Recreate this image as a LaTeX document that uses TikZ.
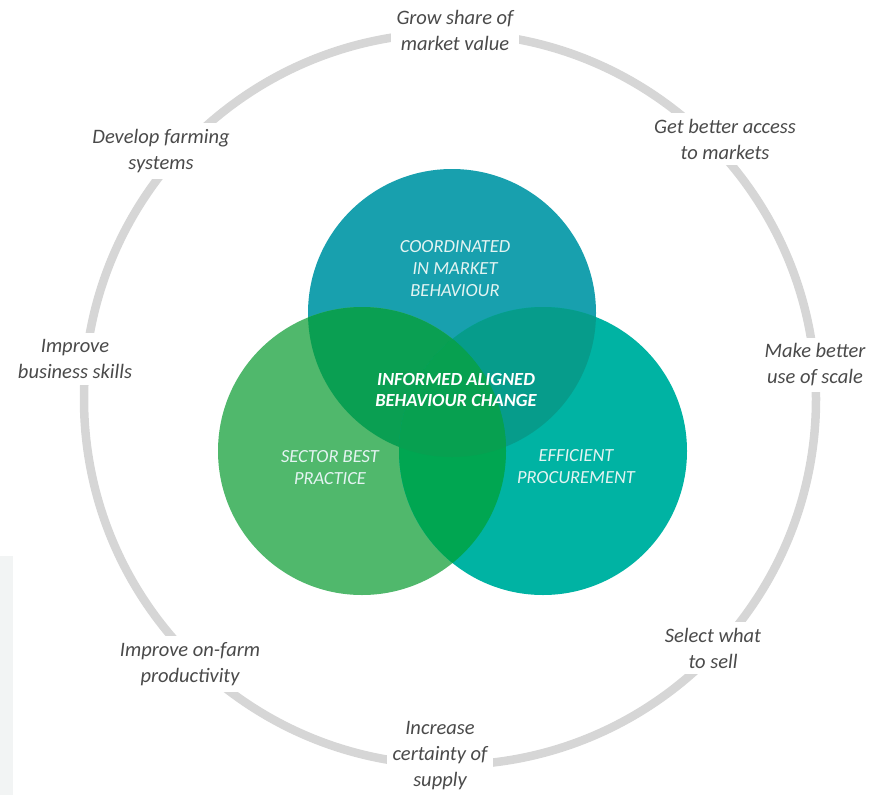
\documentclass[tikz,border=0pt]{standalone}
\usepackage{fontspec}
\setmainfont{Carlito}
\definecolor{ringgray}{HTML}{D6D6D6}
\definecolor{labelgray}{HTML}{4A4A4A}
\definecolor{topc}{HTML}{18A0AE}
\definecolor{leftc}{HTML}{50B86C}
\definecolor{rightc}{HTML}{00B3A3}
\definecolor{tlc}{HTML}{0A9F52}
\definecolor{trc}{HTML}{069C8B}
\definecolor{lrc}{HTML}{00A651}
\definecolor{midc}{HTML}{07A050}
\definecolor{panel}{HTML}{F2F4F4}
\definecolor{softwhite}{HTML}{E4F4F2}
\begin{document}
\begin{tikzpicture}[x=1pt,y=-1pt,
  ringline/.style={draw=ringgray,line width=8.5pt},
  outerlabel/.style={fill=white,inner sep=6pt,align=center,text=labelgray,
    font=\fontsize{20.5}{26}\selectfont\itshape},
  setlabel/.style={align=center,text=softwhite,
    font=\fontsize{18.5}{22}\selectfont\itshape},
  corelabel/.style={align=center,text=white,
    font=\fontsize{18.5}{21.5}\selectfont\bfseries\itshape}]
\useasboundingbox (0,0) rectangle (878,795);
\fill[panel] (0,556) rectangle (13,795);

% outer cycle of goals
\draw[ringline] (450,399) circle[radius=366];

% three overlapping sets
\coordinate (T) at (452,313);
\coordinate (L) at (362,451);
\coordinate (R) at (543,451);
\def\rr{144}
\fill[topc] (T) circle[radius=\rr];
\fill[leftc] (L) circle[radius=\rr];
\fill[rightc] (R) circle[radius=\rr];
\begin{scope}
  \clip (T) circle[radius=\rr];
  \fill[tlc] (L) circle[radius=\rr];
  \fill[trc] (R) circle[radius=\rr];
\end{scope}
\begin{scope}
  \clip (L) circle[radius=\rr];
  \fill[lrc] (R) circle[radius=\rr];
  \clip (T) circle[radius=\rr];
  \fill[midc] (R) circle[radius=\rr];
\end{scope}

% set labels
\node[setlabel] (coord) at (455,269) {COORDINATED\\IN MARKET\\BEHAVIOUR};
\node[setlabel] (sector) at (330,468) {SECTOR BEST\\PRACTICE};
\node[setlabel] (procure) at (576,467) {EFFICIENT\\PROCUREMENT};
\node[corelabel] (core) at (456,390) {INFORMED ALIGNED\\BEHAVIOUR CHANGE};

% goals around the cycle
\node[outerlabel] (grow) at (455,30) {Grow share of\\market value};
\node[outerlabel] (access) at (725,139) {Get better access\\to markets};
\node[outerlabel] (scale) at (815,365) {Make better\\use of scale};
\node[outerlabel] (sell) at (713,648) {Select what\\to sell};
\node[outerlabel] (supply) at (440,756) {Increase\\certainty of\\supply};
\node[outerlabel] (product) at (190,664) {Improve on-farm\\productivity};
\node[outerlabel] (skills) at (75,359) {Improve\\business skills};
\node[outerlabel] (farming) at (161,151) {Develop farming\\systems};
\end{tikzpicture}
\end{document}
